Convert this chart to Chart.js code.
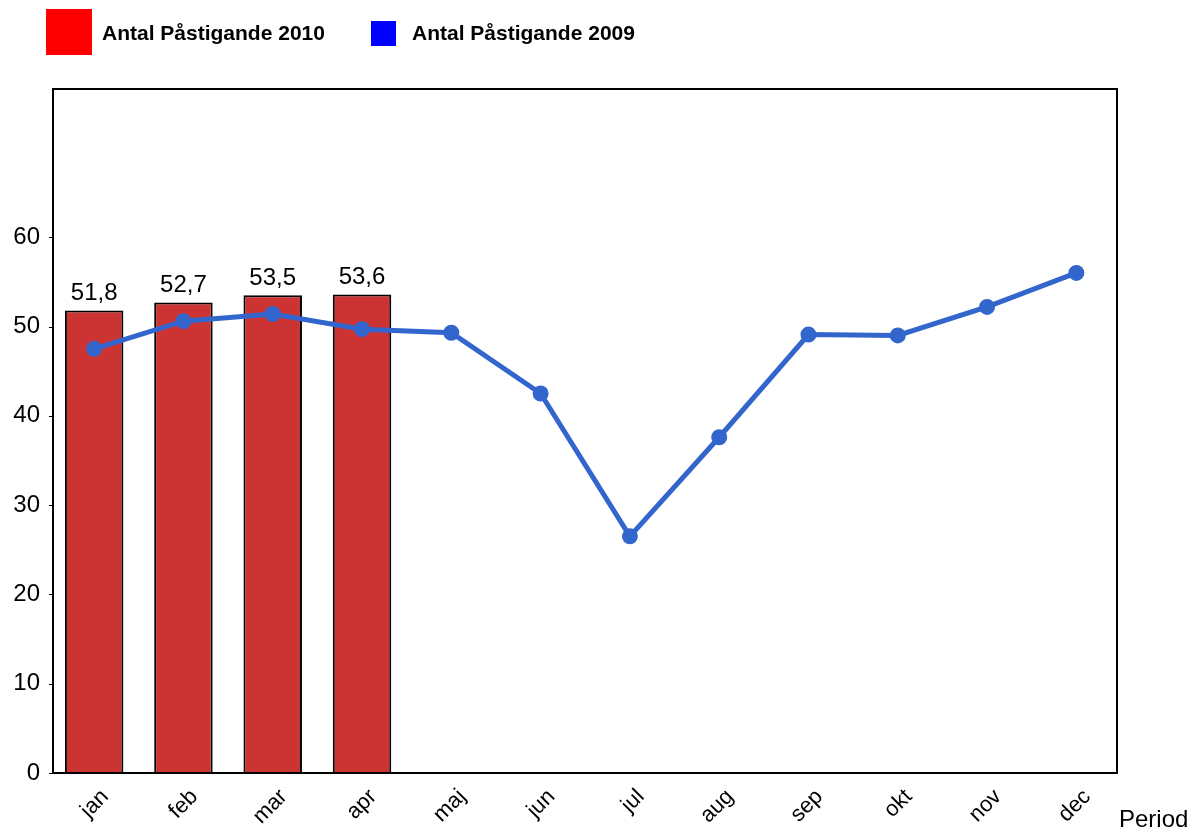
<!DOCTYPE html>
<html>
<head>
<meta charset="utf-8">
<script src="https://cdn.jsdelivr.net/npm/chart.js@4/dist/chart.umd.min.js"></script>
<style>
  html, body { margin: 0; padding: 0; background: #fff; }
  #wrap { width: 1193px; height: 829px; }
</style>
</head>
<body>
<div id="wrap"><canvas id="chart" width="1193" height="829"></canvas></div>
<script>
// data
var months = ['jan', 'feb', 'mar', 'apr', 'maj', 'jun', 'jul', 'aug', 'sep', 'okt', 'nov', 'dec'];
var pass2010 = [51.8, 52.7, 53.5, 53.6];
var pass2009 = [47.5, 50.6, 51.4, 49.7, 49.3, 42.5, 26.5, 37.6, 49.1, 49.0, 52.2, 56.0];
var yTicks = [0, 10, 20, 30, 40, 50, 60];

var FONT = '"Liberation Sans", Arial, sans-serif';

// legend, bar values, frame, y tick marks and axis title
var extras = {
  id: 'extras',
  afterDatasetsDraw: function(chart) {
    var ctx = chart.ctx;
    var area = chart.chartArea;
    var yScale = chart.scales.y;
    var frameLeft = area.left + 3.5;
    ctx.save();

    // frame round the plot (the plot itself runs a little wider than its frame)
    ctx.strokeStyle = '#000';
    ctx.lineWidth = 2;
    ctx.strokeRect(frameLeft, area.top, area.right - area.left - 7.5, area.bottom - area.top);

    // short tick marks on the y axis
    ctx.lineWidth = 1;
    ctx.beginPath();
    yTicks.forEach(function(v) {
      var y = Math.round(yScale.getPixelForValue(v)) + 0.5;
      ctx.moveTo(frameLeft - 4, y);
      ctx.lineTo(frameLeft, y);
    });
    ctx.stroke();

    // value labels above bars
    var meta = chart.getDatasetMeta(0);
    ctx.fillStyle = '#000';
    ctx.font = '24px ' + FONT;
    ctx.textAlign = 'center';
    ctx.textBaseline = 'alphabetic';
    meta.data.forEach(function(bar, i) {
      ctx.fillText(String(pass2010[i]).replace('.', ','), bar.x, bar.y - 10);
    });

    // legend
    ctx.fillStyle = '#ff0000';
    ctx.fillRect(46, 9, 46, 46);
    ctx.fillStyle = '#0000ff';
    ctx.fillRect(371, 21, 25, 25);
    ctx.fillStyle = '#000';
    ctx.font = 'bold 21px ' + FONT;
    ctx.textAlign = 'left';
    ctx.fillText(chart.data.datasets[0].label, 102, 40);
    ctx.fillText(chart.data.datasets[1].label, 412, 40);

    // x axis title
    ctx.font = '24px ' + FONT;
    ctx.fillText('Period', 1119, 827);
    ctx.restore();
  }
};

var ctx = document.getElementById('chart').getContext('2d');
new Chart(ctx, {
  data: {
    labels: months,
    datasets: [{
      type: 'bar',
      label: 'Antal Påstigande 2010',
      data: pass2010,
      backgroundColor: '#cc3333',
      borderColor: '#000',
      borderWidth: 2,
      barPercentage: 0.655,
      categoryPercentage: 1,
      order: 2
    }, {
      type: 'line',
      label: 'Antal Påstigande 2009',
      data: pass2009,
      borderColor: '#3366cc',
      backgroundColor: '#3366cc',
      borderWidth: 5,
      pointRadius: 5.5,
      pointHoverRadius: 5.5,
      tension: 0,
      order: 1
    }]
  },
  options: {
    responsive: false,
    animation: false,
    layout: { padding: { top: 89, right: 72, left: 0, bottom: 0 } },
    plugins: { legend: { display: false }, tooltip: { enabled: false } },
    scales: {
      x: {
        grid: { display: false },
        border: { display: false },
        ticks: {
          color: '#000',
          font: { family: FONT, size: 22 },
          minRotation: 45,
          maxRotation: 45,
          padding: 3,
          labelOffset: 11
        },
        afterFit: function(scale) { scale.height = 56; }
      },
      y: {
        min: 0,
        max: 76.6,
        grid: { display: false, drawTicks: false },
        border: { display: false },
        ticks: {
          color: '#000',
          font: { family: FONT, size: 24 },
          padding: 9.5
        },
        afterBuildTicks: function(scale) {
          scale.ticks = yTicks.map(function(v) { return { value: v }; });
        },
        afterFit: function(scale) { scale.width = 49.5; }
      }
    }
  },
  plugins: [extras]
});
</script>
</body>
</html>
